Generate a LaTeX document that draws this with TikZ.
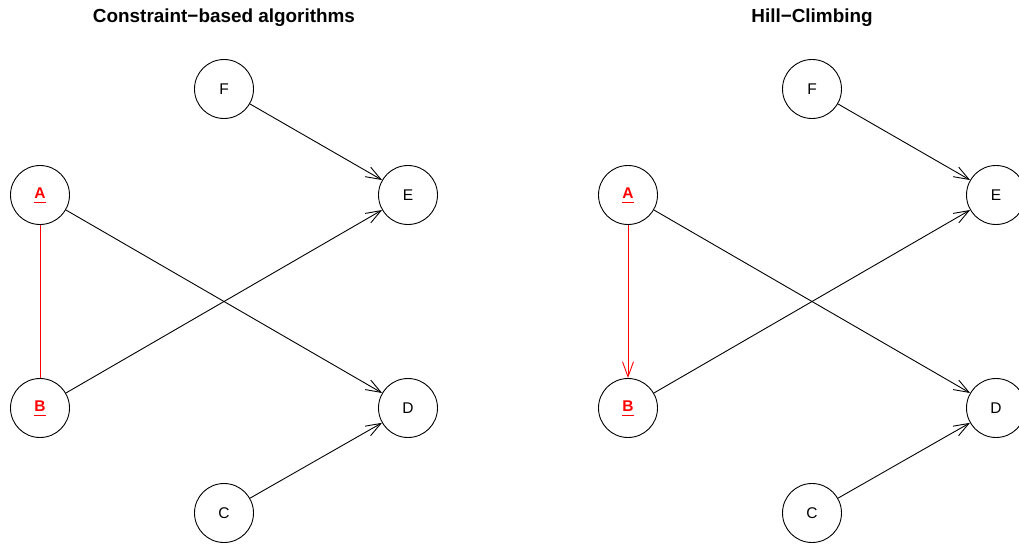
\documentclass[tikz,border=0pt]{standalone}
\usepackage{fontspec}
\setmainfont{Liberation Sans}
\usetikzlibrary{arrows.meta}
\tikzstyle{vertex} = [draw,circle,minimum size=59pt,inner sep=0pt,line width=0.9pt,font=\fontsize{15.5}{18}\selectfont]
\tikzstyle{arc} = [draw,line width=0.9pt]
\tikzstyle{dir} = [arc,-{Straight Barb[length=15pt,width=11pt,line width=0.9pt]}]
\tikzstyle{redvertex} = [vertex,text=red]
\newcommand{\ul}[1]{\underline{\textbf{#1}\rule[-2pt]{0pt}{0pt}}}

\begin{document}
\begin{tikzpicture}[x=1pt,y=-1pt,title/.style={font=\bfseries\fontsize{18.9}{22}\selectfont}]
    \useasboundingbox (0,0) rectangle (1019,543);

    % constraint-based
    \node[title] (t1) at (224,18) {Constraint−based algorithms};
    \node[vertex] (cF) at (224,89) {F};
    \node[vertex] (cE) at (408,195) {E};
    \node[redvertex] (cA) at (40,195) {\ul{A}};
    \node[redvertex] (cB) at (40,408) {\ul{B}};
    \node[vertex] (cD) at (408,408) {D};
    \node[vertex] (cC) at (224,513) {C};

    \draw[dir] (cF) -- (cE);
    \draw[dir] (cA) -- (cD);
    \draw[dir] (cB) -- (cE);
    \draw[dir] (cC) -- (cD);
    \draw[arc, red] (cA) -- (cB);

    % hill-climbing
    \node[title] (t2) at (812,18) {Hill−Climbing};
    \node[vertex] (hF) at (812,89) {F};
    \node[vertex] (hE) at (996,195) {E};
    \node[redvertex] (hA) at (628,195) {\ul{A}};
    \node[redvertex] (hB) at (628,408) {\ul{B}};
    \node[vertex] (hD) at (996,408) {D};
    \node[vertex] (hC) at (812,513) {C};

    \draw[dir] (hF) -- (hE);
    \draw[dir] (hA) -- (hD);
    \draw[dir] (hB) -- (hE);
    \draw[dir] (hC) -- (hD);
    \draw[dir, red] (hA) -- (hB);
\end{tikzpicture}
\end{document}
